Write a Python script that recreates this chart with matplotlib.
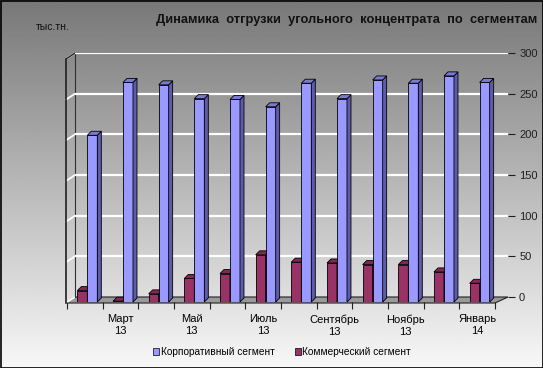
import matplotlib
matplotlib.use('Agg')
import matplotlib.pyplot as plt
import numpy as np
from matplotlib.patches import Polygon, Rectangle

plt.rcParams['font.family'] = ['Liberation Sans', 'DejaVu Sans']

# данные
months = ['Февраль\n13', 'Март\n13', 'Апрель\n13', 'Май\n13', 'Июнь\n13', 'Июль\n13',
          'Август\n13', 'Сентябрь\n13', 'Октябрь\n13', 'Ноябрь\n13', 'Декабрь\n13', 'Январь\n14']
corp = [205, 270, 267, 250, 249, 240, 269, 250, 273, 269, 278, 270]
comm = [14, 1, 10, 29, 35, 58, 49, 48, 46, 46, 37, 23]
names = ['Корпоративный сегмент', 'Коммерческий сегмент']

W, H = 543, 368
fig = plt.figure(figsize=(W / 100, H / 100), dpi=100)

def box(x0, y0, x1, y1):
    return [x0 / W, 1 - y1 / H, (x1 - x0) / W, (y1 - y0) / H]

# фон (градиент) и 3D-каркас в пиксельных координатах
bg = fig.add_axes([0, 0, 1, 1])
bg.set_xlim(0, W)
bg.set_ylim(H, 0)
bg.axis('off')
grad = np.linspace(0.47, 0.97, 256).reshape(-1, 1)
bg.imshow(grad, cmap='gray', vmin=0, vmax=1, extent=[0, W, H, 0], aspect='auto')
bg.add_patch(Rectangle((0.5, 0.5), W - 1, H - 1, fill=False, ec='black', lw=1.2))

sc = 244 / 300.0
for v in range(0, 301, 50):
    bg.plot([66, 75], [303 - v * sc, 297 - v * sc], color='white', lw=1.3)
bg.plot([66, 66], [303, 59], color='#202020', lw=1.2)
bg.plot([66, 75], [59, 53], color='#202020', lw=1.0)
bg.plot([75, 75], [297, 53], color='#303030', lw=0.8)
bg.add_patch(Polygon([(67, 303), (495, 303), (508, 297), (75, 297)], closed=True,
                     fc='#9a9a9a', ec='#202020', lw=0.8))

# задняя стенка: сетка и подписи оси
wall = fig.add_axes(box(75, 53, 508, 297))
wall.patch.set_alpha(0)
wall.set_xlim(0, 1)
wall.set_ylim(0, 300)
wall.set_yticks(range(0, 301, 50))
wall.yaxis.tick_right()
wall.tick_params(axis='y', length=5, width=0.8, colors='#202020', labelsize=8, pad=3)
wall.set_xticks([])
for s in wall.spines.values():
    s.set_visible(False)
for v in range(50, 301, 50):
    wall.axhline(v, color='white', lw=1.6, zorder=0)

# столбцы
ax = fig.add_axes(box(67, 58, 495, 302))
ax.patch.set_alpha(0)
ax.set_xlim(-0.5, 11.5)
ax.set_ylim(0, 300)
for s in ax.spines.values():
    s.set_visible(False)

w = 0.28
dx = 4 / 35.7
dy = 4 / sc
cols = [('#993366', '#6b2247', '#7d2a53'), ('#9999ff', '#5c5cab', '#7a7ad6')]
x = np.arange(len(months))
for i in x:
    for k, vals in enumerate([comm, corp]):
        c = cols[k]
        x0 = i + 0.07 - w + k * w
        h = vals[i]
        ax.bar(x0, h, width=w, align='edge', color=c[0], edgecolor='black', lw=0.6, zorder=3)
        ax.add_patch(Polygon([(x0 + w, 0), (x0 + w + dx, dy), (x0 + w + dx, h + dy), (x0 + w, h)],
                             closed=True, fc=c[1], ec='black', lw=0.6, zorder=3, clip_on=False))
        ax.add_patch(Polygon([(x0, h), (x0 + dx, h + dy), (x0 + w + dx, h + dy), (x0 + w, h)],
                             closed=True, fc=c[2], ec='black', lw=0.6, zorder=3, clip_on=False))

ax.set_yticks([])
ax.set_xticks(x[1::2])
ax.set_xticklabels(months[1::2], fontsize=8, linespacing=1.2)
ax.set_xticks(np.arange(-0.5, 12, 1), minor=True)
ax.tick_params(axis='x', which='major', length=0, pad=9)
ax.tick_params(axis='x', which='minor', length=5, width=0.8, color='#202020')

# заголовок и подписи
fig.text(537 / W, 1 - 20 / H, 'Динамика  отгрузки  угольного  концентрата  по  сегментам',
         ha='right', va='center', fontsize=9.3, fontweight='bold', color='#111111')
fig.text(36 / W, 1 - 27 / H, 'тыс.тн.', ha='left', va='center', fontsize=7.5, color='#111111')

handles = [Rectangle((0, 0), 1, 1, fc=cols[1][0], ec='black', lw=0.5),
           Rectangle((0, 0), 1, 1, fc=cols[0][0], ec='black', lw=0.5)]
fig.legend(handles, names, loc='center', bbox_to_anchor=(282 / W, 1 - 352 / H), ncol=2,
           frameon=False, fontsize=7.3, handlelength=0.6, handleheight=0.6,
           handletextpad=0.15, columnspacing=2.0)

fig.savefig('out.png', dpi=100)
